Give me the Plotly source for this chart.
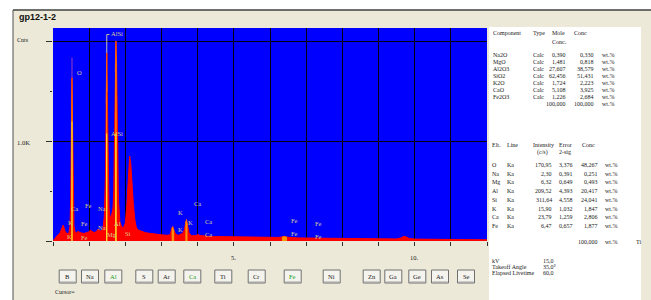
import plotly.graph_objects as go

# ---------------- data ----------------
energy_kev = [0.00, 0.05, 0.12, 0.20, 0.26, 0.28, 0.30, 0.34, 0.40, 0.44, 0.47, 0.49, 0.51, 0.525, 0.54, 0.56,
              0.58, 0.61, 0.65, 0.70, 0.74, 0.80, 0.86, 0.92, 0.98, 1.04, 1.08, 1.14, 1.20, 1.25, 1.30,
              1.34, 1.38, 1.42, 1.45, 1.47, 1.487, 1.50, 1.52, 1.55, 1.58, 1.62, 1.66, 1.68, 1.70, 1.72,
              1.74, 1.76, 1.78, 1.81, 1.85, 1.90, 1.95, 2.00, 2.04, 2.08, 2.12, 2.15, 2.18, 2.22, 2.26,
              2.30, 2.35, 2.45, 2.55, 2.65, 2.75, 2.85, 2.95, 3.05, 3.15, 3.24, 3.28, 3.31, 3.35, 3.40,
              3.47, 3.55, 3.59, 3.63, 3.66, 3.69, 3.72, 3.76, 3.82, 3.90, 3.97, 4.01, 4.06, 4.15, 4.30,
              4.50, 4.75, 5.00, 5.25, 5.50, 5.75, 6.00, 6.20, 6.33, 6.40, 6.47, 6.60, 6.80, 7.00, 7.06,
              7.12, 7.40, 7.70, 8.00, 8.30, 8.60, 8.90, 9.20, 9.50, 9.60, 9.66, 9.71, 9.77, 9.85, 10.00,
              10.30, 10.60, 11.00, 11.40, 11.80, 12.00]
counts = [0, 25, 55, 85, 140, 160, 140, 90, 75, 80, 150, 450, 1200, 1640, 1200, 450,
          150, 90, 80, 100, 85, 80, 75, 85, 90, 110, 95, 85, 95, 120, 100,
          105, 120, 250, 650, 1380, 1890, 1500, 800, 330, 230, 260, 330, 500, 1000, 1700,
          2010, 1750, 1050, 420, 190, 140, 135, 180, 350, 620, 853, 780, 560, 380, 220,
          140, 110, 95, 85, 78, 72, 68, 63, 60, 58, 62, 120, 145, 100, 65,
          58, 70, 78, 110, 180, 215, 160, 80, 55, 52, 58, 66, 55, 50, 47,
          45, 43, 41, 40, 39, 37, 36, 36, 40, 47, 38, 33, 31, 30, 33,
          30, 28, 27, 25, 24, 22, 21, 20, 21, 28, 42, 48, 40, 26, 19,
          17, 16, 14, 13, 12, 12]

# ROI windows of identified elements (keV)
roi_windows = [(0.51, 0.54), (1.02, 1.06), (1.23, 1.28), (1.47, 1.50), (1.72, 1.76),
               (3.28, 3.35), (3.66, 3.72), (6.33, 6.47)]

# KLM marker line energies / heights
marker_energy = [0.525, 1.487, 1.740]
marker_top = [1200, 1080, 1080]

# element labels (text, keV, counts)
peak_labels = [("O", 0.61, 1690), ("AlSi", 1.55, 2080), ("AlSi", 1.55, 1085),
               ("Ca", 0.44, 330), ("Fe", 0.83, 360), ("Na", 1.19, 330),
               ("K", 0.36, 190), ("Fe", 0.72, 180), ("Na", 1.19, 140),
               ("K", 0.33, 50), ("Fe", 0.72, 40), ("Mg", 1.44, 70), ("Al", 1.64, 180), ("Si", 1.94, 80),
               ("K", 3.40, 290), ("Ca", 3.84, 380), ("K", 3.68, 190), ("Ca", 4.15, 200),
               ("K", 3.40, 120), ("Ca", 4.15, 70),
               ("Fe", 6.52, 210), ("Fe", 7.19, 180), ("Fe", 6.52, 80), ("Fe", 7.19, 50)]

x_tick_labels = {5: "5.", 10: "10."}

buttons = ["B", "Na", "Al", "S", "Ar", "Ca", "Ti", "Cr", "Fe", "Ni", "Zn", "Ga", "Ge", "As", "Se"]
button_x = [67.7, 90, 113.3, 144.3, 166.7, 192.3, 223.3, 256.7, 292.7, 331.7, 371.7, 393.3, 417.3, 440, 466]
button_green = ["Al", "Ca", "Fe"]

oxides = ["Na2O", "MgO", "Al2O3", "SiO2", "K2O", "CaO", "Fe2O3"]
oxide_mole = ["0,390", "1,481", "27,607", "62,456", "1,724", "5,108", "1,226"]
oxide_conc = ["0,330", "0,818", "38,579", "51,431", "2,223", "3,925", "2,684"]

elements = ["O", "Na", "Mg", "Al", "Si", "K", "Ca", "Fe"]
elem_int = ["170,95", "2,30", "6,32", "209,52", "311,64", "15,90", "23,79", "6,47"]
elem_err = ["3,376", "0,391", "0,649", "4,393", "4,558", "1,032", "1,259", "0,657"]
elem_conc = ["48,267", "0,251", "0,493", "20,417", "24,041", "1,847", "2,806", "1,877"]

# ---------------- figure ----------------
W, H = 651, 300
PL, PR, PT, PB = 53, 487, 28, 241


def px(x):
    return (x - PL) / (PR - PL)


def py(y):
    return (PB - y) / (PB - PT)


fig = go.Figure()
fig.add_trace(go.Scatter(x=energy_kev, y=counts, mode="lines", fill="tozeroy",
                         line=dict(color="#FF0000", width=1), fillcolor="#FF0000",
                         hoverinfo="skip", showlegend=False))
for lo, hi in roi_windows:
    xs = [e for e in energy_kev if lo <= e <= hi]
    ys = [c for e, c in zip(energy_kev, counts) if lo <= e <= hi]
    fig.add_trace(go.Scatter(x=xs, y=ys, mode="lines", fill="tozeroy",
                             line=dict(color="#FF7A00", width=0.5), fillcolor="#FF9000",
                             hoverinfo="skip", showlegend=False))

shapes = []
# white surroundings of the window (outside plot area only)
shapes.append(dict(type="rect", xref="paper", yref="paper", x0=px(0), x1=px(651), y0=py(10), y1=py(0),
                   fillcolor="#FFFFFF", line=dict(width=0), layer="below"))
shapes.append(dict(type="rect", xref="paper", yref="paper", x0=px(0), x1=px(13), y0=py(300), y1=py(0),
                   fillcolor="#FFFFFF", line=dict(width=0), layer="below"))
shapes.append(dict(type="line", xref="paper", yref="paper", x0=px(13), x1=px(651), y0=py(10), y1=py(10),
                   line=dict(color="#404040", width=1.5)))
shapes.append(dict(type="line", xref="paper", yref="paper", x0=px(13), x1=px(13), y0=py(300), y1=py(10),
                   line=dict(color="#505050", width=1)))
# right white panel
shapes.append(dict(type="rect", xref="paper", yref="paper", x0=px(489), x1=px(641), y0=py(300), y1=py(27),
                   fillcolor="#FFFFFF", line=dict(width=0), layer="below"))
# marker lines
shapes.append(dict(type="line", xref="x", yref="y", x0=0.525, x1=0.525, y0=1640, y1=1840,
                   line=dict(color="#9A3DB8", width=1)))
shapes.append(dict(type="line", xref="x", yref="y", x0=1.487, x1=1.487, y0=1890, y1=2075,
                   line=dict(color="#C8C8A0", width=1)))
shapes.append(dict(type="line", xref="x", yref="y", x0=1.487, x1=1.56, y0=2075, y1=2075,
                   line=dict(color="#C8C8A0", width=1)))
for e, t in zip(marker_energy, marker_top):
    shapes.append(dict(type="line", xref="x", yref="y", x0=e, x1=e, y0=0, y1=t,
                       line=dict(color="#FFFF30", width=1)))

annotations = []
for txt_, e, c in peak_labels:
    annotations.append(dict(x=e, y=c, xref="x", yref="y", text=txt_, showarrow=False,
                            xanchor="left", yanchor="middle",
                            font=dict(family="Liberation Serif", size=6.5, color="#D8D08A")))


def txt(x, y, s, size=6, anchor="left", color="#202020", family="Liberation Serif", bold=False):
    if bold:
        s = "<b>" + s + "</b>"
    annotations.append(dict(x=px(x), y=py(y), xref="paper", yref="paper", text=s, showarrow=False,
                            xanchor=anchor, yanchor="middle",
                            font=dict(family=family, size=size, color=color)))


txt(17, 17, "gp12-1-2", size=9, family="Liberation Sans", bold=True, color="#101010")
txt(15, 40, "Cnts", size=6)
txt(15, 142, "1.0K", size=6.5)
for v, s in x_tick_labels.items():
    txt(PL + v * (PR - PL) / 12, 257, s, size=6.5, anchor="center")
txt(53, 292, "Cursor=", size=6)

# buttons
for name, bx in zip(buttons, button_x):
    shapes.append(dict(type="rect", xref="paper", yref="paper", x0=px(bx - 8.5), x1=px(bx + 8.5),
                       y0=py(283), y1=py(270), fillcolor="#F4F3EE", line=dict(color="#707070", width=1)))
    shapes.append(dict(type="line", xref="paper", yref="paper", x0=px(bx - 7.5), x1=px(bx + 7.5),
                       y0=py(282), y1=py(282), line=dict(color="#A0A0A0", width=1)))
    txt(bx, 276.5, name, size=6.5, anchor="center",
        color="#20A020" if name in button_green else "#202020")

# table 1
txt(491, 33, "Component")
txt(531, 33, "Type")
txt(550, 33, "Mole")
txt(550, 42, "Conc.")
txt(572, 33, "Conc")
for i, (o, m, c) in enumerate(zip(oxides, oxide_mole, oxide_conc)):
    y = 55 + i * 7
    txt(491, y, o)
    txt(531, y, "Calc")
    txt(568, y, m, anchor="right")
    txt(596, y, c, anchor="right")
    txt(600, y, "wt.%")
txt(568, 104, "100,000", anchor="right")
txt(596, 104, "100,000", anchor="right")
txt(600, 104, "wt.%")

# table 2
txt(490, 145, "Elt.")
txt(505, 145, "Line")
txt(531, 145, "Intensity")
txt(535, 152, "(c/s)")
txt(557, 145, "Error")
txt(557, 152, "2-sig")
txt(580, 145, "Conc")
for i, (el, it, er, c) in enumerate(zip(elements, elem_int, elem_err, elem_conc)):
    y = 165 + i * 8.7
    txt(490, y, el)
    txt(505, y, "Ka")
    txt(554, y, it, anchor="right")
    txt(575, y, er, anchor="right")
    txt(600, y, c, anchor="right")
    txt(603, y, "wt.%")
txt(600, 242, "100,000", anchor="right")
txt(603, 242, "wt.%")
txt(634, 242, "Ti")

txt(490, 261, "kV")
txt(541, 261, "15,0")
txt(490, 267, "Takeoff Angle")
txt(541, 267, "35,0°")
txt(490, 273, "Elapsed Livetime")
txt(541, 273, "60,0")

fig.update_layout(
    width=W, height=H,
    margin=dict(l=PL, r=W - PR, t=PT, b=H - PB, pad=0),
    paper_bgcolor="#ECE9D8", plot_bgcolor="#0000FF",
    showlegend=False,
    shapes=shapes, annotations=annotations,
    xaxis=dict(range=[0, 12], dtick=1, tick0=0, showgrid=True, gridcolor="#000010", gridwidth=1,
               ticks="outside", ticklen=4, tickcolor="#303030", showticklabels=False,
               zeroline=False, showline=False, fixedrange=True),
    yaxis=dict(range=[0, 2140], dtick=1000, tick0=0, showgrid=True, gridcolor="#000010", gridwidth=1,
               ticks="outside", ticklen=6, tickcolor="#303030", showticklabels=False,
               zeroline=False, showline=False, fixedrange=True,
               minor=dict(dtick=500, ticks="outside", ticklen=2, tickcolor="#303030", showgrid=False)),
)

fig.write_html("out.html", config={"displayModeBar": False},
               post_script="document.body.style.margin='0';document.body.style.overflow='hidden';")
